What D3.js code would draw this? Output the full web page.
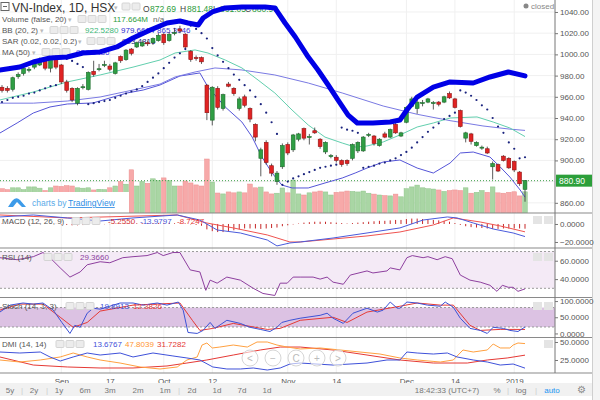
<!DOCTYPE html>
<html>
<head>
<meta charset="utf-8">
<title>VN-Index, 1D, HSX</title>
<script src="https://d3js.org/d3.v7.min.js"></script>
<style>
  body { margin: 0; background: #fff; }
  svg text { font-family: "Liberation Sans", Arial, sans-serif; }
</style>
</head>
<body>
<svg id="chart" width="600" height="400"></svg>
<script>
// daily bars, 20 Aug 2018 .. 4 Jan 2019 (bar index 0..97)
const opens = [969,968,967,979,982,985,988,990,994,987, 997,990,974,968,954,969,967,984,986,990,
  989,982,998,995,1005,1007,1008,1011,1011,1013, 1019,1013,1020,1024,1019,1003,997,997,971,938,
  968,949,972,968,949,960,949,934,902,917, 895,880,894,915,910,920,930,922,928,920,
  908,904,903,900,900,902,909,909,924,923, 914,925,922,934,923,936,951,949,954,955,
  954,955,955,963,958,947,921,925,914,912, 911,894,896,904,902,899,889,872.69];
const closes = [966,966,978,981,987,986,993,994,987,996, 988,974,966,957,968,969.5,983,981,986.5,990.5,
  986,992,994,1004,1001,1011,1011,1010,1015,1018, 1011,1019,1020.5,1022,1007,995,996,993,945,969,
  950,962,970,963,958,952,939,922,910,898, 888,888,914,907,924,925,921,922.5,926,913,
  917,904.5,900,896,897,915,917,922,924.5,916, 920,922,929,926,926,950,958,955,954.5,958,
  954.5,953,960,959,950,932,926,918,917,912.5, 907,897,890,900,893,891,878,880.9];
const highs = [971,970,979,983,988,988,995,997,996,998, 999,991,976,969,969,972,984,994,991,994,
  991,993,999,1005,1006,1012,1013,1013,1016,1020, 1020,1021,1025,1027,1020,1004,999,998,972,970,
  970,963,974,969,960,962,950,935,912,919, 897,890,916,917,925,926,931,925,931,921,
  918,906,905,901,901,916,918,923,926,924, 921,927,930,936,927,951,960,957,957,959,
  956,956,961,965,959,948,927,926,918,914, 913,899,897,905,903,900,890,881.48];
const lows = [964,964,965,977,980,983,986,989,985,983, 986,972,964,955,952,967,966,979,984,988,
  984,981,992,994,999,1006,1007,1008,1009,1012, 1009,1012,1018,1020,1005,993,994,991,938,933,
  948,947,969,961,947,950,936,918,885,896, 885,877,892,905,908,918,919,915,925,911,
  906,902,898,894,895,900,907,908,922,914, 913,921,921,925,922,935,950,944,951,954,
  948,951,954,958,949,931,917,915,913,910, 906,882,889,899,892,889,876,861.05];
// volume, millions
const volumes = [135,130,140,140,130,145,145,138,125,140, 150,148,152,150,140,138,140,128,132,130,
  140,150,175,160,240,150,175,165,190,180, 195,180,150,150,178,167,156,150,300,172,
  111,106,117,112,117,112,161,140,144,117, 106,110,139,112,183,106,100,112,117,122,
  117,100,115,117,122,120,117,122,110,105, 100,97,95,105,90,135,145,155,140,135,
  133,128,120,125,128,125,140,110,115,125, 115,145,112,110,115,118,95,117.664];

// indicator lines as [bar index, value]
const bbUpper = [[-0.4,985.3],[3.3,988.1],[5.8,992.8],[8.9,996.6],[12.1,997.5],[15,1001.3],[18.2,1002.3],
  [21.3,1007],[24.3,1015.5],[27.5,1023],[30.6,1029.6],[33,1031.5],[34.5,1029.6],[36.4,1027.7],[37.3,1034.3],
  [39,1040],[41.4,1043.8],[44.5,1044.7],[48.8,1044.7],[50.6,1043.8],[52.5,1029.6],[54.4,1016.4],[56.8,997.5],
  [58.6,985.3],[60.5,971.1],[62.3,957],[64.2,942.8],[65.9,935.3],[68.8,935.3],[72,936.2],[73.8,938.1],
  [75.1,947.5],[77,959.8],[80,969.2],[83.1,974],[87.4,973],[90.5,978.7],[93.9,983.4],[97,979.7]];
const bbLower = [[-0.4,925.8],[2.8,935.3],[5.8,944.7],[8.9,950.4],[12.1,953.2],[16.9,954.2],[20,958.9],
  [23.2,963.6],[26.2,966.4],[29.3,971.1],[33,979.6],[36.7,982.5],[38.2,969.2],[41.4,950.4],[44.5,936.2],
  [46.4,922],[48.2,903.2],[50.1,888.1],[51.9,876.8],[53.8,874],[56.8,874],[59.9,878.7],[63.1,883.4],
  [65.5,888.1],[67.7,892.8],[70.7,898.5],[73.8,900.4],[77,892.8],[80,888.1],[83.1,897.5],[85,907],
  [87.4,907.9],[90.5,903.2],[92.4,893.8],[94.2,884.3],[96.1,872.1],[97,865.4]];
const bbBasis = [[-0.4,957],[5.8,964.5],[12.1,974],[18.2,980.6],[24.3,988],[29.3,994.7],[32.1,1001.3],
  [35.8,1004.2],[38.2,1001.3],[41.4,994.7],[44.5,987.2],[47.5,975.8],[50.6,963.6],[53.8,947.5],[56.8,933.4],
  [59.9,922],[63.1,916.4],[65.5,912.6],[67.7,913.6],[70.7,917.4],[73.8,924],[77,931.5],[80,935.3],
  [83.1,940],[88.1,941],[91.1,936.2],[94.2,930.6],[97,922.5]];
const ma50 = [[-0.4,954],[5.8,954],[12.1,956],[18.2,959.8],[24.3,966.4],[29.3,972],[32.1,978.7],[35.8,983.4],
  [39.5,987.2],[44.5,985.3],[50.6,980.6],[56.8,973],[63.1,963.6],[70.7,951.3],[77,943.5],[83.1,937.5],
  [89.2,932.5],[94.2,929.5],[97,928.3]];
const sar = [955,957,959,960,961,963,964,966,968,970,971,
  997.5,995.7,993.8,991,988,
  953,954,955,956,957,959,961,963,965,967,970,974,978,982,987,992,997,1001,1005,
  1027,1024,1020,1015,1006,999,993,987,981,976,971,966,960,953,945,936,925,
  877,880,883,885,887,889,891,893,894,895,896,
  931,929,928,926,
  893,894,895,897,898,900,902,905,908,912,917,922,927,931,935,939,942,945,
  966,964,961,957,952,948,940,932,926,917,911,902,903];

const macdLine = [[-0.4,7.8],[5.8,10],[12.1,6.7],[18.2,3.3],[24.3,6.7],[32.5,10],[36.7,4.4],[39.9,-6.7],
  [44.2,-10],[49.2,-17.8],[51,-24.4],[53.4,-21.1],[55.3,-20],[61.4,-15.6],[67.7,-10],[73.8,-4.4],
  [78.1,4.4],[82.6,7.8],[84.4,6.7],[87.4,1.1],[91.1,-5.6],[94.8,-10],[97,-13.98]];
const macdSignal = [[-0.4,10],[12.1,6.7],[32.5,10],[38,1.1],[42.9,-4.4],[49.2,-12.2],[53.4,-20],[55.3,-20],
  [61.4,-16.7],[67.7,-13.3],[73.8,-8.9],[80,-1.1],[83.7,6.7],[88.7,2.2],[92.4,-2.2],[97,-8.72]];
const macdHist = [0.5,0.3,0.6,0.8,1,0.8,0.6,0.5,0.2,0.3,0.2,
  -0.5,-1,-1.5,-1.5,-1.2,-0.8,-0.5,-0.4,-0.3,-0.2,
  0.2,0.3,0.5,0.6,0.8,1,1,1.1,1.2,1,1,0.8,0.6,0.3,-0.5,
  -1,-2,-6,-8,-9,-9,-8,-7,-6,-5,-5,-5,-5.5,-5,-4.5,
  -4,-2.5,-1.5,-0.5,0.5,1.5,2,2.5,2.5,2.5,
  2,1.5,1,0.5,1,1.5,2,2.5,3,3.5,
  3.5,4,4.5,4.5,5.5,6,6,5.5,5,4.5,
  4,3.5,2.5,1,-1,-2.5,-3.5,-4,-4.5,-5,
  -5.5,-5.5,-5,-5,-5,-5,-5.255];

const rsi = [[-0.4,63.3],[2.8,61.1],[5.8,64.4],[7.6,68.9],[8.9,63.3],[10.8,52.2],[12.6,42.2],[14.5,47.8],
  [15.8,55.6],[18.2,58.9],[20,57.8],[22.4,63.3],[24.3,64.4],[26.9,65.6],[28.8,68.9],[29.9,65.6],[31.7,68.9],
  [33,68.9],[34.9,50],[36.7,47.8],[37.8,27.8],[38.6,38.9],[39.9,35.6],[41.7,42.2],[44.2,38.9],[46.6,30],
  [48.4,24.4],[50.6,22.2],[51.6,35.6],[52.9,35.6],[54,42.2],[55.3,42.2],[57.7,42.2],[59,40],[60.3,42.2],
  [61.4,36.7],[63.3,34.4],[64.6,44.4],[67.7,48.9],[68.8,46.7],[71.4,48.9],[72,52.2],[73.8,50],[75.1,63.3],
  [76.1,65.6],[78.1,63.3],[79,64.4],[80.7,61.1],[82.2,64.4],[83.5,62.2],[85,44.4],[86.8,38.9],[88.7,36.7],
  [90.5,33.3],[91.8,26.7],[92.8,33.3],[93.9,31.1],[94.8,31.1],[95.7,26.7],[97,29.37]];

const stochK = [[-0.4,66],[1.5,87.5],[3.9,94],[5.8,90.6],[7.6,94],[9.5,72],[11.1,34],[12.6,0],[13.5,25],
  [14.5,19],[15.8,62.5],[16.9,78],[18.2,75],[20,84],[21.9,94],[24.3,94],[26.2,87.5],[28.8,94],[30.6,87.5],
  [32.7,97],[33.6,72],[34.5,3],[36.2,0],[37.3,9.4],[38.6,34],[39.5,15.6],[41.7,40.6],[44.2,31],[46,19],
  [47.9,12.5],[49.7,6],[51,19],[51.9,34],[53.4,40.6],[55.3,47],[59,56],[60.3,62.5],[61.4,47],[63.3,31],
  [65.1,62.5],[67.7,78],[69.6,66],[70.7,72],[72,97],[73.3,78],[73.8,78],[75.1,97],[77,94],[78.9,87.5],
  [81.3,84],[82.2,97],[83.7,81],[85,47],[86.8,15.6],[88.7,9.4],[90,0],[91.1,19],[93,15.6],[94.2,9.4],
  [95.7,6],[97,19.89]];
const stochD = [[-0.4,72],[3.3,90.6],[7.6,90.6],[10.8,50],[13.2,19],[15.8,34],[18.2,69],[24.3,87.5],
  [33,94],[35.3,40.6],[36.7,9.4],[39.1,15.6],[42.9,31],[49.2,12.5],[51.6,15.6],[55.3,40.6],[61.4,50],
  [64,34],[67.7,66],[73.8,84],[77,94],[81.3,87.5],[83.7,87.5],[86.8,25],[88.7,9.4],[92.4,12.5],[94.2,12.5],
  [97,12.38]];

const diPlus = [[-0.4,36.1],[3.3,34.7],[7.1,36.1],[8.9,29.2],[10.8,23.6],[13.2,29.2],[15.8,34.7],[18.2,31.9],
  [21.9,34.7],[24.3,29.2],[28,34.7],[31.7,30.6],[34.3,27.8],[36.7,25],[39.1,15.3],[41.7,12.5],[44.2,12.5],
  [46.6,13.9],[49.2,11.1],[51.6,13.9],[53.4,19.4],[55.3,20.8],[61.4,18],[67.7,20.8],[71.4,25],[73.8,25],
  [75.1,36.1],[77,34.7],[80,33.3],[82.6,34.7],[84.4,29.2],[87.4,25],[90,22.2],[92.4,18],[94.8,19.4],[97,13.68]];
const diMinus = [[-0.4,25],[3.3,22.2],[7.1,25],[10.8,29.2],[13.2,34.7],[15.8,29.2],[18.2,25],[21.9,20.8],
  [25.6,15.3],[29.3,12.5],[32.5,15.3],[34.3,25],[36.2,29.2],[37.1,45.8],[38,48.6],[39,41.7],[40.4,43],
  [42.9,45.8],[45.5,43],[47.3,50],[49.2,50],[51,45.8],[52.9,43],[55.3,40.3],[59,41.7],[62.7,38.9],
  [66.4,36.1],[70.1,33.3],[73.8,27.8],[77,25],[81.3,22.2],[83.7,25],[85.5,38.9],[87.4,36.1],[90,38.9],
  [91.1,47.2],[92.4,41.7],[94.2,41.7],[94.8,45.8],[95.7,48.6],[97,47.8]];
const adx = [[-0.4,29.2],[5.8,18],[12.1,15.3],[18.2,13.9],[24.3,13.9],[30.6,16.7],[34.3,20.8],[38,25],
  [42.9,31.9],[47.9,38.9],[51.6,43],[55.3,43],[61.4,38.9],[67.7,31.9],[73.8,25],[80,20.8],[86.3,20.8],
  [90,25],[93.7,27.8],[97,31.73]];

const priceTicks = [860,880,900,920,940,960,980,1000,1020,1040];
const dateTicks = [11,20,30,39,53,62,75,84,95];
const dateLabels = ["Sep","17","Oct","12","Nov","14","Dec","14","2019"];
const ranges = ["5y","2y","1y","6m","3m","2m","1m","2d","1d","7d","1d"];

const svg = d3.select("#chart");
const axisX = 555, edge = 592;
const x = d3.scaleLinear().domain([0, 97]).range([2, 525]);
const yMain = d3.scaleLinear().domain([850.4, 1051.3]).range([213, 0]);
const yVol = d3.scaleLinear().domain([0, 300]).range([213, 159]);
const yMacd = d3.scaleLinear().domain([-26.7, 12.2]).range([248, 213]);
const yRsi = d3.scaleLinear().domain([20, 73.3]).range([297.5, 248.5]);
const yStoch = d3.scaleLinear().domain([-12.5, 111]).range([337.5, 297.5]);
const yDmi = d3.scaleLinear().domain([6.94, 56.25]).range([373, 337.5]);

svg.append("rect").attr("width", 600).attr("height", 400).attr("fill", "#fff");

// clip paths, one per pane
const panes = [[0,213],[213,248],[248,297.5],[297.5,337.5],[337.5,373]];
const defs = svg.append("defs");
panes.forEach((p, k) => defs.append("clipPath").attr("id", "clip" + k)
  .append("rect").attr("x", 0).attr("y", p[0]).attr("width", axisX).attr("height", p[1] - p[0]));
const pane = k => svg.append("g").attr("clip-path", `url(#clip${k})`);

// grid
const grid = svg.append("g").attr("stroke", "#f0f0f0");
grid.selectAll(".v").data(dateTicks).join("line")
  .attr("x1", d => x(d)).attr("x2", d => x(d)).attr("y1", 0).attr("y2", 373);
grid.selectAll(".h").data(priceTicks).join("line")
  .attr("x1", 0).attr("x2", axisX).attr("y1", d => yMain(d)).attr("y2", d => yMain(d));

function line(g, pts, ys, color, w) {
  return g.append("path").datum(pts).attr("fill", "none").attr("stroke", color)
    .attr("stroke-width", w).attr("stroke-linejoin", "round")
    .attr("d", d3.line().x(d => x(d[0])).y(d => ys(d[1])));
}
function icons(g, x0, y0, n) {
  for (let k = 0; k < n; k++)
    g.append("rect").attr("x", x0 + k * 10).attr("y", y0).attr("width", 8).attr("height", 7)
      .attr("rx", 1).attr("fill", "#ececec").attr("stroke", "#d4d4d4");
}
function label(g, tx, ty, str, color, size) {
  return g.append("text").attr("x", tx).attr("y", ty).attr("fill", color)
    .attr("font-size", size || 8).text(str);
}

// ---------- main pane ----------
const main = pane(0);
const band = bbUpper.concat(bbLower.slice().reverse());
main.append("path").datum(band).attr("fill", "#e9e9f6")
  .attr("d", d3.line().x(d => x(d[0])).y(d => yMain(d[1])) + "Z");

const up = i => closes[i] >= opens[i];
main.selectAll(".vol").data(volumes).join("rect")
  .attr("x", (d, i) => x(i) - 2.3).attr("width", 4.6)
  .attr("y", d => yVol(d)).attr("height", d => yVol(0) - yVol(d))
  .attr("fill", (d, i) => up(i) ? "#a9d6a4" : "#f7a9a9")
  .attr("stroke", (d, i) => up(i) ? "#8ec489" : "#ec9090").attr("stroke-width", 0.5);

main.append("line").attr("x1", 0).attr("x2", axisX)
  .attr("y1", yMain(880.9)).attr("y2", yMain(880.9))
  .attr("stroke", "#3f9f4a").attr("stroke-dasharray", "1,2");

// legends of the main pane
const leg = svg.append("g");
leg.append("rect").attr("x", 1).attr("y", 2.5).attr("width", 8).attr("height", 8)
  .attr("fill", "none").attr("stroke", "#666");
leg.append("line").attr("x1", 3).attr("x2", 7).attr("y1", 6.5).attr("y2", 6.5).attr("stroke", "#666");
label(leg, 12, 11.5, "VN-Index, 1D, HSX", "#333", 12);
label(leg, 114, 10, "▾", "#bbb", 7);
icons(leg, 122, 3, 2);
[["O",143,"872.69"],["H",180,"881.48"],["L",213,"861.05"],["C",245,"880.90"]].forEach(o => {
  label(leg, o[1], 11.5, o[0], "#444", 8.5);
  label(leg, o[1] + 7, 11.5, o[2], "#2d9d3c", 8.5);
});
label(leg, 2, 22, "Volume (false, 20)", "#555");
label(leg, 68, 21.5, "▾", "#bbb", 7);
icons(leg, 78, 15.5, 3);
label(leg, 113, 22, "117.664M", "#2d9d3c");
label(leg, 153, 22, "n/a", "#666");
label(leg, 2, 33, "BB (20, 2)", "#555");
label(leg, 40, 32.5, "▾", "#bbb", 7);
icons(leg, 50, 26.5, 3);
label(leg, 85, 33, "922.5280", "#3cb878");
label(leg, 121, 33, "979.6614", "#2a2ad0");
label(leg, 157, 33, "865.3946", "#3a3ad6");
label(leg, 2, 44, "SAR (0.02, 0.02, 0.2)", "#555");
label(leg, 78, 43.5, "▾", "#bbb", 7);
icons(leg, 87, 37.5, 3);
label(leg, 122, 44, "903.4815", "#1a237e");
label(leg, 2, 55, "MA (50)", "#555");
label(leg, 32, 54.5, "▾", "#bbb", 7);
icons(leg, 42, 48.5, 3);
label(leg, 76, 55, "928.3486", "#4a4ae0");
svg.append("circle").attr("cx", 526).attr("cy", 6).attr("r", 2.5).attr("fill", "#888");
label(svg, 531, 9, "closed", "#888", 8);

const main2 = pane(0);
line(main2, bbLower, yMain, "#5555d8", 1);
line(main2, ma50, yMain, "#7a7ae3", 1);
line(main2, bbBasis, yMain, "#62cfae", 1);

main2.selectAll(".wick").data(highs).join("line")
  .attr("x1", (d, i) => x(i)).attr("x2", (d, i) => x(i))
  .attr("y1", d => yMain(d)).attr("y2", (d, i) => yMain(lows[i]))
  .attr("stroke", "#333").attr("stroke-width", 0.8);
main2.selectAll(".body").data(opens).join("rect")
  .attr("x", (d, i) => x(i) - 1.9).attr("width", 3.8)
  .attr("y", (d, i) => yMain(Math.max(d, closes[i])))
  .attr("height", (d, i) => Math.max(1, Math.abs(yMain(d) - yMain(closes[i]))))
  .attr("fill", (d, i) => up(i) ? "#2f9e44" : "#e02323")
  .attr("stroke", (d, i) => up(i) ? "#1d6b2b" : "#8f1515").attr("stroke-width", 0.6);

main2.selectAll(".sar").data(sar).join("circle")
  .attr("cx", (d, i) => x(i)).attr("cy", d => yMain(d)).attr("r", 1.1).attr("fill", "#1a237e");

line(main2, bbUpper, yMain, "#0000e6", 5).attr("stroke-linecap", "round");

// TradingView badge
const badge = svg.append("g");
badge.append("rect").attr("x", 0).attr("y", 192).attr("width", 129).attr("height", 21).attr("fill", "#fff");
badge.append("path").attr("fill", "#3d9be9")
  .attr("d", "M8,207 L12,201 Q16,196 20,200 L26,207 L22,207 L17,202 L13,207 Z");
label(badge, 32, 206, "charts by", "#5aaae8", 8.5);
label(badge, 68, 206, "TradingView", "#2f8de4", 8.5).attr("text-decoration", "underline");

// ---------- MACD ----------
const macd = pane(1);
macd.selectAll(".h").data(macdHist).join("line")
  .attr("x1", (d, i) => x(i)).attr("x2", (d, i) => x(i))
  .attr("y1", yMacd(0)).attr("y2", d => yMacd(d))
  .attr("stroke", "#c62828").attr("stroke-width", 1);
line(macd, macdSignal, yMacd, "#ef5350", 1);
line(macd, macdLine, yMacd, "#4a5bdc", 1);
label(svg, 2, 224, "MACD (12, 26, 9)", "#555");
icons(svg, 72, 217.5, 3);
label(svg, 108, 224, "-5.2550", "#d32f2f");
label(svg, 140, 224, "-13.9797", "#4a5bdc");
label(svg, 177, 224, "-8.7247", "#e53935");

// ---------- RSI ----------
const rs = pane(2);
rs.append("rect").attr("x", 0).attr("width", axisX)
  .attr("y", yRsi(70)).attr("height", yRsi(30) - yRsi(70)).attr("fill", "#f4eaf6");
[70, 30].forEach(v => rs.append("line").attr("x1", 0).attr("x2", axisX)
  .attr("y1", yRsi(v)).attr("y2", yRsi(v)).attr("stroke", "#9a9a9a").attr("stroke-dasharray", "2,2"));
line(rs, rsi, yRsi, "#8d3f9e", 1);
label(svg, 2, 260, "RSI (14)", "#555");
icons(svg, 44, 253.5, 3);
label(svg, 80, 260, "29.3660", "#8d3f9e");

// ---------- Stoch ----------
const st = pane(3);
st.append("rect").attr("x", 0).attr("width", axisX)
  .attr("y", yStoch(80)).attr("height", yStoch(20) - yStoch(80)).attr("fill", "#dcc2e3");
[80, 20].forEach(v => st.append("line").attr("x1", 0).attr("x2", axisX)
  .attr("y1", yStoch(v)).attr("y2", yStoch(v)).attr("stroke", "#9a9a9a").attr("stroke-dasharray", "2,2"));
line(st, stochD, yStoch, "#e53935", 1);
line(st, stochK, yStoch, "#3d52d5", 1);
label(svg, 2, 309, "Stoch (14, 1, 3)", "#555");
icons(svg, 66, 302.5, 3);
label(svg, 100, 309, "19.8913", "#3d52d5");
label(svg, 133, 309, "12.3826", "#e53935");

// ---------- DMI ----------
const dm = pane(4);
line(dm, adx, yDmi, "#e53935", 1);
line(dm, diMinus, yDmi, "#ffa040", 1);
line(dm, diPlus, yDmi, "#3f51d9", 1);
label(svg, 2, 347, "DMI (14, 14)", "#555");
icons(svg, 56, 340.5, 3);
label(svg, 93, 347, "13.6767", "#3f51d9");
label(svg, 125, 347, "47.8039", "#ff9530");
label(svg, 157, 347, "31.7282", "#e53935");
[["<",250],["−",273],["C",296],["+",317],[">",338]].forEach(b => {
  svg.append("circle").attr("cx", b[1]).attr("cy", 358).attr("r", 8)
    .attr("fill", "#fff").attr("fill-opacity", 0.6).attr("stroke", "#d6d6d6");
  label(svg, b[1], 361.5, b[0], "#bbb", 10).attr("text-anchor", "middle");
});

// small pane buttons
[[533,216],[544,216],[533,253],[544,253],[533,302],[544,302],[544,340]].forEach(p =>
  svg.append("rect").attr("x", p[0]).attr("y", p[1]).attr("width", 9).attr("height", 8)
    .attr("fill", "#e4e4e4"));

// separators and right axes
svg.append("rect").attr("x", edge).attr("y", 0).attr("width", 600 - edge).attr("height", 400).attr("fill", "#f4f4f4");
svg.append("line").attr("x1", edge + 0.5).attr("x2", edge + 0.5).attr("y1", 0).attr("y2", 400).attr("stroke", "#cfcfcf");
[213, 248, 297.5, 337.5, 373].forEach(y => svg.append("line")
  .attr("x1", 0).attr("x2", edge).attr("y1", y).attr("y2", y)
  .attr("stroke", "#8a8a8a").attr("stroke-width", 1.2));
svg.append("line").attr("x1", axisX).attr("x2", axisX).attr("y1", 0).attr("y2", 373)
  .attr("stroke", "#777");

function rightAxis(ys, ticks, fmt) {
  const g = svg.append("g").attr("transform", `translate(${axisX},0)`)
    .call(d3.axisRight(ys).tickValues(ticks).tickFormat(d3.format(fmt)).tickSize(3).tickPadding(2));
  g.select(".domain").remove();
  g.selectAll("line").attr("stroke", "#777");
  g.selectAll("text").attr("fill", "#555").attr("font-size", 8)
    .attr("font-family", "'Liberation Sans', Arial, sans-serif");
}
// the 880 label sits under the last-price tag
rightAxis(yMain, priceTicks.filter(v => v !== 880), ".2f");
rightAxis(yMacd, [0, -20], ".4f");
rightAxis(yRsi, [40, 60], ".4f");
rightAxis(yStoch, [0, 50, 100], ".4f");
rightAxis(yDmi, [25, 50], ".4f");

// last price tag
svg.append("rect").attr("x", axisX + 1).attr("y", yMain(880.9) - 6).attr("width", 36).attr("height", 12)
  .attr("fill", "#2c9f3a");
label(svg, axisX + 4, yMain(880.9) + 3, "880.90", "#fff", 8.5);

// date axis
const dx = svg.append("g").attr("transform", "translate(0,373)")
  .call(d3.axisBottom(x).tickValues(dateTicks).tickFormat((d, k) => dateLabels[k]).tickSize(0).tickPadding(5));
dx.select(".domain").remove();
dx.selectAll("text").attr("fill", "#555").attr("font-size", 8)
  .attr("font-family", "'Liberation Sans', Arial, sans-serif");

// bottom toolbar
svg.append("rect").attr("x", 0).attr("y", 383).attr("width", edge).attr("height", 13).attr("fill", "#f1f1f1");
const rx = [10,34,59,85,110,138,165,192,217,242,267];
ranges.forEach((r, k) => label(svg, rx[k], 392.5, r, "#777", 8).attr("text-anchor", "middle"));
[22, 47, 179].forEach(s => label(svg, s, 392.5, "|", "#ccc", 8).attr("text-anchor", "middle"));
label(svg, 447, 392.5, "18:42:33 (UTC+7)", "#777", 8).attr("text-anchor", "middle");
label(svg, 497, 392.5, "%", "#777", 8).attr("text-anchor", "middle");
label(svg, 508, 392.5, "|", "#ccc", 8).attr("text-anchor", "middle");
label(svg, 521, 392.5, "log", "#777", 8).attr("text-anchor", "middle");
label(svg, 536, 392.5, "|", "#ccc", 8).attr("text-anchor", "middle");
label(svg, 552, 392.5, "auto", "#2196f3", 8).attr("text-anchor", "middle");
label(svg, 581, 393, "⚙", "#888", 10).attr("text-anchor", "middle");
</script>
</body>
</html>
